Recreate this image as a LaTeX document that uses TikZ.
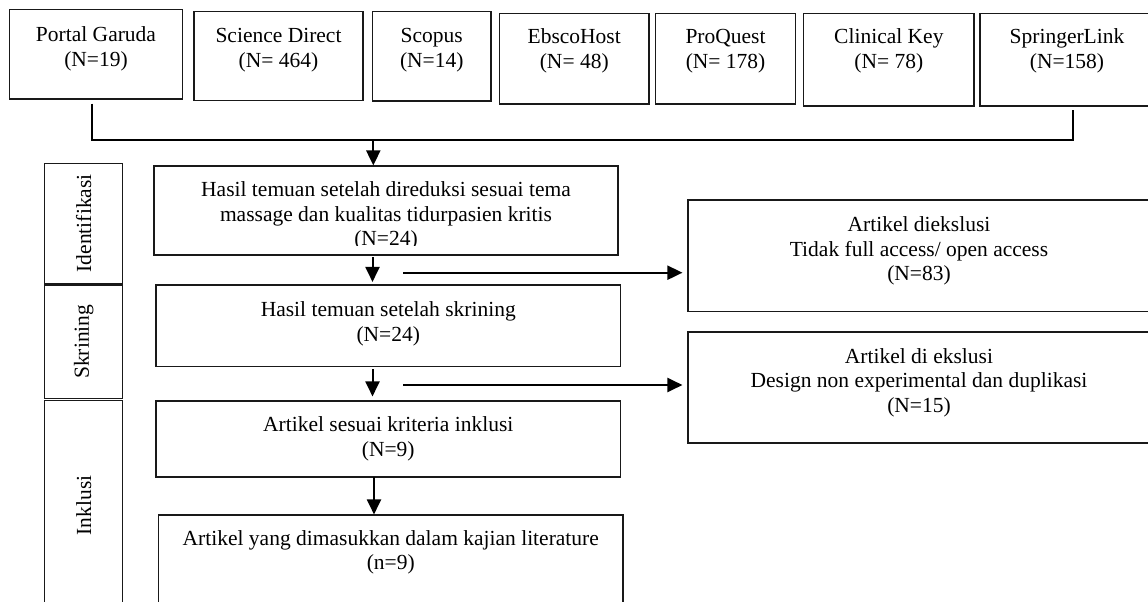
\documentclass[tikz,border=0pt]{standalone}
\usepackage{fontspec}
\setmainfont{Liberation Serif}
\usetikzlibrary{arrows.meta,fit}
\newcommand{\bx}[7]{%
  \node[frame, fit={(#2,#3) (#4,#5)}] (#1) {};
  \node[txt] (#1t) at ({(#2+#4)/2},{#6-17.15}) {\strut #7};}
\begin{document}
\begin{tikzpicture}[x=1pt,y=-1pt,
  frame/.style={draw=black!90, line width=1.1pt, inner sep=0pt},
  txt/.style={font=\fontsize{21.5}{24.5}\selectfont, align=center, inner sep=0pt, anchor=north},
  side/.style={font=\fontsize{21.5}{24.5}\selectfont, rotate=90, inner sep=0pt},
  conn/.style={line width=2pt},
  arr/.style={line width=2pt, -{Triangle[width=14pt,length=15pt]}}]
\useasboundingbox (0,0) rectangle (1148,602);
\clip (0,0) rectangle (1148,602);
% source boxes
\bx{pg}{9.3}{9.3}{182.7}{99}{41.5}{Portal Garuda\\(N=19)}
\bx{sd}{194}{11.7}{363}{100.7}{42.5}{Science Direct\\(N= 464)}
\bx{sc}{372.5}{11.7}{491}{101}{42.5}{Scopus\\(N=14)}
\bx{eb}{499.5}{13.3}{649}{104}{43.3}{EbscoHost\\(N= 48)}
\bx{pq}{655.5}{13.3}{795.6}{104}{43.3}{ProQuest\\(N= 178)}
\bx{ck}{803.7}{13.3}{974}{106}{43.3}{Clinical Key\\(N= 78)}
\bx{sl}{980}{13.3}{1154}{106}{43.3}{SpringerLink\\(N=158)}
% stage labels
\node[frame, fit={(44.6,163.3) (122.8,283.3)}] (id) {};
\node[frame, fit={(44.6,285) (122.8,398.5)}] (sk) {};
\node[frame, fit={(44.6,400.7) (122.8,610)}] (in) {};
\node[side] (idt) at (id.center) {Identifikasi};
\node[side] (skt) at (sk.center) {Skrining};
\node[side] (int) at (in.center) {Inklusi};
% main boxes
\node[frame, fit={(154,166) (618,255)}] (b1) {};
\begin{scope}
\clip (154,166) rectangle (618,245);
\node[txt] (b1t) at (386,{196.7-17.15}) {\strut Hasil temuan setelah direduksi sesuai tema\\massage dan kualitas tidurpasien kritis\\(N=24)};
\end{scope}
\bx{b2}{156}{285}{620.5}{366.7}{316.7}{Hasil temuan setelah skrining\\(N=24)}
\bx{b3}{156}{401}{620.5}{477}{431.7}{Artikel sesuai kriteria inklusi\\(N=9)}
\bx{b4}{158.5}{515}{623}{610}{545}{Artikel yang dimasukkan dalam kajian literature\\(n=9)}
\bx{e1}{688}{200}{1150}{311.7}{231.5}{Artikel diekslusi\\Tidak full access/ open access\\(N=83)}
\bx{e2}{688}{332}{1150}{443}{363}{Artikel di ekslusi\\Design non experimental dan duplikasi\\(N=15)}
% connectors
\coordinate (pgo) at (92.3,103.5);
\coordinate (slo) at (1072.7,110);
\coordinate (mid) at (373.3,140);
\draw[conn] (pgo) |- (mid) -| (slo);
\draw[arr] (mid) -- (mid |- b1.north);
\coordinate (a1) at (372.5,257);
\draw[arr, shorten >=2.5pt] (a1) -- (a1 |- b2.north);
\coordinate (a2) at (372.5,369);
\draw[arr, shorten >=4pt] (a2) -- (a2 |- b3.north);
\coordinate (a3) at (374,477);
\draw[arr] (a3) -- (a3 |- b4.north);
\coordinate (h1) at (403,272.7);
\draw[arr, shorten >=5pt] (h1) -- (h1 -| e1.west);
\coordinate (h2) at (403,385);
\draw[arr, shorten >=5pt] (h2) -- (h2 -| e2.west);
\end{tikzpicture}
\end{document}
